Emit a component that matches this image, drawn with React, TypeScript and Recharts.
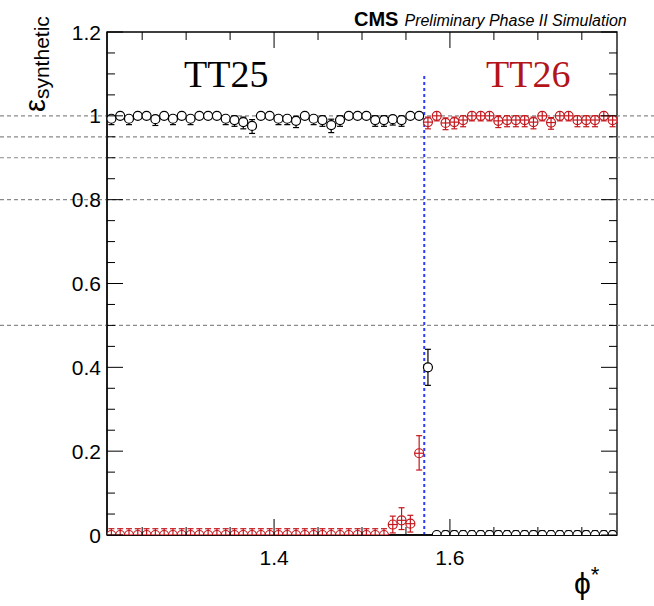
import React from 'react'
import { ScatterChart, Scatter, XAxis, YAxis, ErrorBar, ReferenceLine, ReferenceArea } from 'recharts'

// bin centres in phi*
const phiBins = [
  1.215, 1.225, 1.235, 1.245, 1.255, 1.265, 1.275, 1.285, 1.295, 1.305,
  1.315, 1.325, 1.335, 1.345, 1.355, 1.365, 1.375, 1.385, 1.395, 1.405,
  1.415, 1.425, 1.435, 1.445, 1.455, 1.465, 1.475, 1.485, 1.495, 1.505,
  1.515, 1.525, 1.535, 1.545, 1.555, 1.565, 1.575, 1.585, 1.595, 1.605,
  1.615, 1.625, 1.635, 1.645, 1.655, 1.665, 1.675, 1.685, 1.695, 1.705,
  1.715, 1.725, 1.735, 1.745, 1.755, 1.765, 1.775, 1.785,
]

// TT25 (black)
const tt25Eff = [
  0.993, 1.0, 0.993, 1.0, 1.0, 0.992, 1.0, 0.993, 1.0, 0.993,
  1.0, 1.0, 1.0, 0.993, 0.99, 0.985, 0.976, 1.0, 1.0, 0.993,
  0.993, 0.988, 1.0, 0.993, 0.99, 0.978, 0.99, 1.0, 1.0, 1.0,
  0.99, 0.99, 0.992, 0.99, 1.0, 1.0, 0.4, 0, 0, 0,
  0, 0, 0, 0, 0, 0, 0, 0, 0, 0,
  0, 0, 0, 0, 0, 0, 0, 0,
]
const tt25ErrLo = [
  0.014, 0.004, 0.014, 0.004, 0.004, 0.015, 0.004, 0.014, 0.004, 0.014,
  0.004, 0.004, 0.004, 0.014, 0.015, 0.016, 0.018, 0.004, 0.004, 0.014,
  0.014, 0.016, 0.004, 0.014, 0.015, 0.018, 0.015, 0.004, 0.004, 0.004,
  0.015, 0.015, 0.014, 0.015, 0.004, 0.004, 0.043, 0, 0, 0,
  0, 0, 0, 0, 0, 0, 0, 0, 0, 0,
  0, 0, 0, 0, 0, 0, 0, 0,
]
const tt25ErrHi = [
  0.007, 0, 0.007, 0, 0, 0.008, 0, 0.007, 0, 0.007,
  0, 0, 0, 0.007, 0.01, 0.012, 0.015, 0, 0, 0.007,
  0.007, 0.011, 0, 0.007, 0.01, 0.014, 0.01, 0, 0, 0,
  0.01, 0.01, 0.008, 0.01, 0, 0, 0.043, 0.004, 0.01, 0.01,
  0.01, 0.01, 0.01, 0.01, 0.01, 0.01, 0.01, 0.01, 0.01, 0.01,
  0.01, 0.01, 0.01, 0.01, 0.01, 0.01, 0.01, 0.01,
]

// TT26 (red)
const tt26Eff = [
  0, 0, 0, 0, 0, 0, 0, 0, 0, 0,
  0, 0, 0, 0, 0, 0, 0, 0, 0, 0,
  0, 0, 0, 0, 0, 0, 0, 0, 0, 0,
  0, 0, 0.025, 0.035, 0.027, 0.195, 0.985, 1.0, 0.983, 0.985,
  0.99, 1.0, 1.0, 1.0, 0.988, 0.99, 0.99, 0.99, 0.985, 1.0,
  0.984, 1.0, 1.0, 0.99, 0.99, 0.99, 1.0, 0.99,
]
const tt26ErrLo = [
  0, 0, 0, 0, 0, 0, 0, 0, 0, 0,
  0, 0, 0, 0, 0, 0, 0, 0, 0, 0,
  0, 0, 0, 0, 0, 0, 0, 0, 0, 0,
  0, 0, 0.02, 0.022, 0.02, 0.04, 0.016, 0.012, 0.016, 0.016,
  0.016, 0.012, 0.012, 0.012, 0.016, 0.016, 0.016, 0.016, 0.016, 0.012,
  0.016, 0.012, 0.012, 0.016, 0.016, 0.016, 0.012, 0.016,
]
const tt26ErrHi = [
  0.015, 0.015, 0.015, 0.015, 0.015, 0.015, 0.015, 0.015, 0.015, 0.015,
  0.015, 0.015, 0.015, 0.015, 0.015, 0.015, 0.015, 0.015, 0.015, 0.015,
  0.015, 0.015, 0.015, 0.015, 0.015, 0.015, 0.015, 0.015, 0.015, 0.015,
  0.015, 0.015, 0.02, 0.03, 0.02, 0.042, 0.012, 0, 0.012, 0.012,
  0.01, 0, 0, 0, 0.012, 0.01, 0.01, 0.01, 0.012, 0,
  0.012, 0, 0, 0.01, 0.01, 0.01, 0, 0.01,
]

const xTicks = [1.25, 1.3, 1.35, 1.4, 1.45, 1.5, 1.55, 1.6, 1.65, 1.7, 1.75]
const yTicks = [
  0, 0.05, 0.1, 0.15, 0.2, 0.25, 0.3, 0.35, 0.4, 0.45, 0.5, 0.55, 0.6,
  0.65, 0.7, 0.75, 0.8, 0.85, 0.9, 0.95, 1, 1.05, 1.1, 1.15, 1.2,
]
const guideLines = [1.0, 0.95, 0.9, 0.8, 0.5]
const boundary = 1.5708
const X_DOMAIN = [1.21, 1.79]
const Y_DOMAIN = [0, 1.2]

const tt25Data = phiBins.map((phi, i) => ({ phi, eff: tt25Eff[i], err: [tt25ErrLo[i], tt25ErrHi[i]] }))
const tt26Data = phiBins.map((phi, i) => ({ phi, eff: tt26Eff[i], err: [tt26ErrLo[i], tt26ErrHi[i]] }))

const RED = '#c4161c'
const SANS = '"Liberation Sans", Arial, sans-serif'
const W = 654
const H = 606
const MARGIN = { top: 32, right: 37, bottom: 0, left: 0 }
const Y_AXIS_W = 107
const X_AXIS_H = 71
const PLOT_W = W - Y_AXIS_W - MARGIN.right
const PLOT_H = H - MARGIN.top - X_AXIS_H

const isMajor = (v: number) => Math.abs(v * 5 - Math.round(v * 5)) < 1e-6
const fmt = (v: number) => String(Math.round(v * 10) / 10)

// frame-tick positions for the mirrored top/right ticks (same linear mapping as the axes)
const frameX = (v: number) => Y_AXIS_W + ((v - X_DOMAIN[0]) / (X_DOMAIN[1] - X_DOMAIN[0])) * PLOT_W
const frameY = (v: number) => MARGIN.top + ((Y_DOMAIN[1] - v) / (Y_DOMAIN[1] - Y_DOMAIN[0])) * PLOT_H

const BottomTick = ({ x, y, payload }: any) => {
  const major = isMajor(payload.value)
  return (
    <g>
      <line x1={x} x2={x} y1={y} y2={y - (major ? 16 : 8)} stroke="#000" strokeWidth={1} />
      {major && (
        <text x={x} y={y + 30} textAnchor="middle" fontSize={21} fontFamily={SANS} fill="#000">
          {fmt(payload.value)}
        </text>
      )}
    </g>
  )
}

const LeftTick = ({ x, y, payload }: any) => {
  const major = isMajor(payload.value)
  return (
    <g>
      <line x1={x} x2={x + (major ? 16 : 8)} y1={y} y2={y} stroke="#000" strokeWidth={1} />
      {major && (
        <text x={x - 6} y={y + 7.5} textAnchor="end" fontSize={21} fontFamily={SANS} fill="#000">
          {fmt(payload.value)}
        </text>
      )}
    </g>
  )
}

const OpenCircle = ({ cx, cy }: any) => (
  <circle cx={cx} cy={cy} r={4.5} fill="#fff" stroke="#000" strokeWidth={1.2} />
)

const CrossCircle = ({ cx, cy }: any) => (
  <g stroke={RED} strokeWidth={1.2}>
    <circle cx={cx} cy={cy} r={4.5} fill="#fff" />
    <line x1={cx - 4.5} x2={cx + 4.5} y1={cy} y2={cy} />
    <line x1={cx} x2={cx} y1={cy - 4.5} y2={cy + 4.5} />
  </g>
)

const FullWidthDash = ({ y1 }: any) => (
  <line x1={0} x2={W} y1={y1} y2={y1} stroke="#8a8a8a" strokeWidth={1.2} strokeDasharray="4 3" />
)

export default function App() {
  const top = MARGIN.top
  const right = Y_AXIS_W + PLOT_W
  return (
    <div style={{ position: 'absolute', left: 0, top: 0, width: W, height: H, background: '#fff' }}>
      <ScatterChart width={W} height={H} margin={MARGIN}>
        <XAxis
          dataKey="phi"
          type="number"
          domain={X_DOMAIN}
          allowDataOverflow
          ticks={xTicks}
          tick={<BottomTick />}
          tickLine={false}
          tickSize={0}
          tickMargin={0}
          height={X_AXIS_H}
          axisLine={{ stroke: '#000', strokeWidth: 1.3 }}
          interval={0}
        />
        <YAxis
          dataKey="eff"
          type="number"
          domain={Y_DOMAIN}
          allowDataOverflow
          ticks={yTicks}
          tick={<LeftTick />}
          tickLine={false}
          tickSize={0}
          tickMargin={0}
          width={Y_AXIS_W}
          axisLine={{ stroke: '#000', strokeWidth: 1.3 }}
          interval={0}
        />
        <ReferenceArea x1={X_DOMAIN[0]} x2={X_DOMAIN[1]} y1={Y_DOMAIN[0]} y2={Y_DOMAIN[1]} fill="none" stroke="#000" strokeWidth={1.3} ifOverflow="visible" />
        {guideLines.map((v) => (
          <ReferenceLine key={'g' + v} y={v} shape={<FullWidthDash />} />
        ))}
        <ReferenceLine
          segment={[{ x: boundary, y: 0 }, { x: boundary, y: 1.1 }]}
          stroke="#2b3cff"
          strokeWidth={2}
          strokeDasharray="3 3"
        />
        <Scatter name="TT25" data={tt25Data} shape={<OpenCircle />} isAnimationActive={false}>
          <ErrorBar dataKey="err" direction="y" width={3} stroke="#000" strokeWidth={1.2} />
        </Scatter>
        <Scatter name="TT26" data={tt26Data} shape={<CrossCircle />} isAnimationActive={false}>
          <ErrorBar dataKey="err" direction="y" width={3} stroke={RED} strokeWidth={1.2} />
        </Scatter>
      </ScatterChart>

      {/* mirrored inward ticks on the top and right edges of the frame */}
      <svg
        width={W}
        height={H}
        style={{ position: 'absolute', left: 0, top: 0, pointerEvents: 'none', zIndex: 2 }}
      >
        {xTicks.map((v) => (
          <line key={'t' + v} x1={frameX(v)} x2={frameX(v)} y1={top} y2={top + (isMajor(v) ? 16 : 8)} stroke="#000" strokeWidth={1} />
        ))}
        {yTicks.map((v) => (
          <line key={'r' + v} x1={right} x2={right - (isMajor(v) ? 16 : 8)} y1={frameY(v)} y2={frameY(v)} stroke="#000" strokeWidth={1} />
        ))}
      </svg>

      <div style={{ position: 'absolute', left: 354, top: 8, whiteSpace: 'nowrap', fontFamily: SANS, color: '#000' }}>
        <span style={{ fontWeight: 'bold', fontSize: 20 }}>CMS</span>
        <span style={{ fontStyle: 'italic', fontSize: 16, marginLeft: 6 }}>Preliminary Phase II Simulation</span>
      </div>

      <div style={{ position: 'absolute', left: 184, top: 52, fontFamily: '"Liberation Serif", "DejaVu Serif", serif', fontSize: 38, color: '#000', lineHeight: '44px' }}>
        TT25
      </div>
      <div style={{ position: 'absolute', left: 486, top: 52, fontFamily: '"Liberation Serif", "DejaVu Serif", serif', fontSize: 38, color: '#b3141a', lineHeight: '44px' }}>
        TT26
      </div>

      <div
        style={{
          position: 'absolute',
          left: 18,
          top: 112,
          transform: 'rotate(-90deg)',
          transformOrigin: 'left top',
          whiteSpace: 'nowrap',
          fontFamily: SANS,
          lineHeight: '34px',
          color: '#000',
        }}
      >
        <span style={{ fontSize: 29 }}>ε</span>
        <span style={{ fontSize: 21, position: 'relative', top: 4 }}>synthetic</span>
      </div>

      <div style={{ position: 'absolute', left: 574, top: 566, fontFamily: SANS, fontSize: 30, color: '#000', lineHeight: '36px' }}>
        ϕ<span style={{ fontSize: 22, position: 'relative', top: -12 }}>*</span>
      </div>
    </div>
  )
}
